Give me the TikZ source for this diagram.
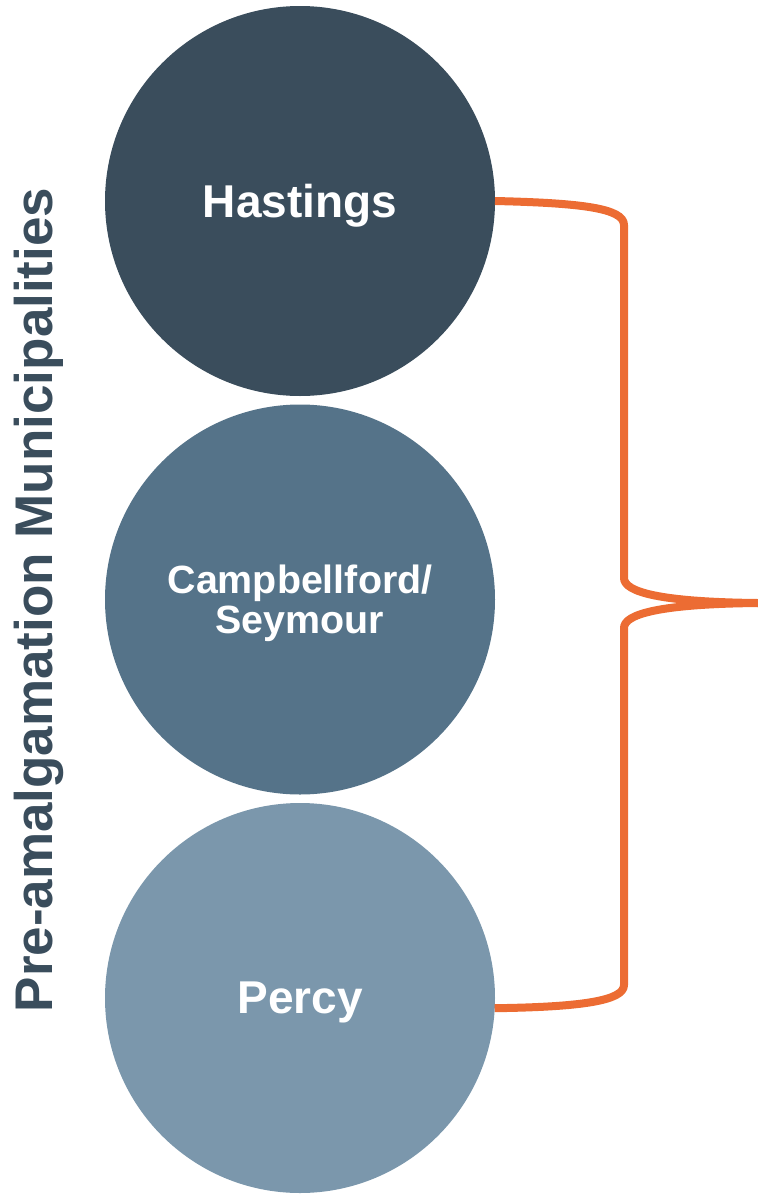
\documentclass[tikz,border=0pt]{standalone}
\usepackage{fontspec}
\setmainfont{Liberation Sans}
\usetikzlibrary{positioning}
\definecolor{mydarkslate}{HTML}{3A4D5C}
\definecolor{mymidslate}{HTML}{557389}
\definecolor{mylightslate}{HTML}{7B97AC}
\definecolor{myorange}{HTML}{EC6C33}

\begin{document}
\begin{tikzpicture}[x = 0.5pt, y = -0.5pt, node distance = 4.25pt, muni/.style={circle, minimum size = 195pt, inner sep = 0pt, outer sep = 0pt, text = white, font = \bfseries\fontsize{23pt}{28pt}\selectfont, text depth = 0pt, align = center}, brace/.style={draw = myorange, line width = 4pt, line join = round}]
  \useasboundingbox (0,0) rectangle (758,1194);

  % nodes
  \node [muni, fill = mydarkslate] (hastings) at (300,201) {Hastings};
  \node [muni, fill = mymidslate, font = \bfseries\fontsize{19.7pt}{20pt}\selectfont][below = of hastings] (campbellford) {Campbellford/\\Seymour};
  \node [muni, fill = mylightslate][below = of campbellford] (percy) {Percy};

  \node [rotate = 90, anchor = base, text = mydarkslate, font = \bfseries\fontsize{26.5pt}{30pt}\selectfont] (title) at (53,600) {Pre-amalgamation Municipalities};

  % brace
  \coordinate (tip) at (758,603);
  \draw [brace] (hastings.east) .. controls (580,203) and (624,208) .. (624,225) -- (624,578) .. controls (624,592) and (660,602) .. (tip);
  \draw [brace] (tip) .. controls (660,604) and (624,614) .. (624,628) -- (624,985) .. controls (624,1001) and (580,1007) .. (percy.357);
\end{tikzpicture}
\end{document}
